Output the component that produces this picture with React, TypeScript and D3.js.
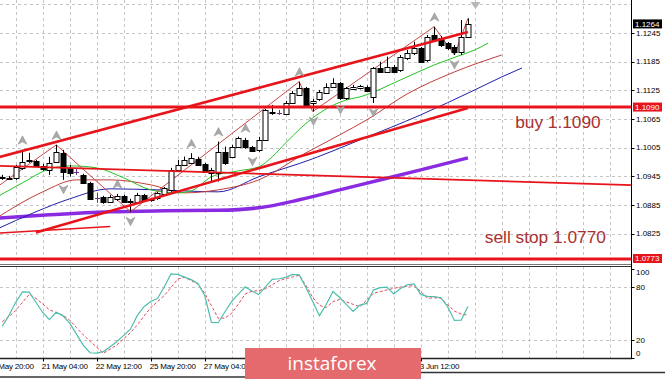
import React from "react";
import * as d3 from "d3";

// ---------- DATA (EURUSD H4, bar 0 = 20 May 04:00) ----------
const opens = [1.09428,1.09407,1.09411,1.09634,1.09774,1.09774,1.09675,1.09586,1.09759,1.09941,
1.09627,1.09537,1.09481,1.09306,1.09000,1.09007,1.08923,1.08973,1.09042,1.08917,
1.08923,1.09063,1.08948,1.08994,1.09083,1.09167,1.09586,1.09690,1.09738,1.09816,
1.09704,1.09516,1.09516,1.09968,1.09864,1.10060,1.10213,1.10060,1.10004,1.10213,
1.10805,1.10784,1.10757,1.10980,1.11154,1.11294,1.10980,1.11064,1.11202,1.11327,
1.11398,1.11085,1.11273,1.11300,1.11327,1.11118,1.11712,1.11641,1.11746,1.11676,
1.11921,1.12026,1.12130,1.11886,1.12408,1.12352,1.12235,1.12164,1.12059,1.12373];
const closes = [1.09418,1.09418,1.09655,1.09759,1.09784,1.09675,1.09606,1.09732,1.09968,1.09550,
1.09529,1.09537,1.09306,1.08979,1.09000,1.08910,1.09027,1.09048,1.08923,1.08937,
1.09063,1.08958,1.08969,1.09098,1.09202,1.09586,1.09690,1.09795,1.09837,1.09690,
1.09550,1.09586,1.09968,1.09725,1.10060,1.10249,1.10060,1.09989,1.10213,1.10840,
1.10771,1.10784,1.10993,1.11189,1.11294,1.10945,1.11034,1.11223,1.11327,1.11398,
1.11085,1.11294,1.11327,1.11331,1.11244,1.11712,1.11641,1.11746,1.11641,1.11955,
1.12038,1.12130,1.11850,1.12373,1.12304,1.12199,1.12130,1.12059,1.12373,1.12640];
const highs = [1.09481,1.09460,1.09690,1.10004,1.09941,1.09795,1.09711,1.09857,1.10108,1.10004,
1.09690,1.09606,1.09502,1.09334,1.09104,1.09042,1.09063,1.09083,1.09063,1.08979,
1.09104,1.09083,1.09000,1.09125,1.09230,1.09627,1.09795,1.09864,1.09935,1.09857,
1.09732,1.09627,1.10177,1.10073,1.10108,1.10282,1.10255,1.10087,1.10276,1.10861,
1.10945,1.10840,1.11028,1.11237,1.11432,1.11321,1.11070,1.11258,1.11398,1.11503,
1.11425,1.11321,1.11363,1.11363,1.11352,1.11739,1.11850,1.11955,1.11781,1.11990,
1.12095,1.12268,1.12157,1.12408,1.12582,1.12387,1.12262,1.12199,1.12722,1.12757];
const lows = [1.09376,1.09376,1.09376,1.09586,1.09732,1.09669,1.09565,1.09481,1.09732,1.09376,
1.09445,1.09481,1.09293,1.08958,1.08896,1.08875,1.08896,1.08937,1.08896,1.08708,
1.08896,1.08937,1.08917,1.08958,1.09063,1.09125,1.09565,1.09669,1.09711,1.09669,
1.09523,1.09340,1.09340,1.09690,1.09837,1.10046,1.10025,1.09962,1.09962,1.10192,
1.10736,1.10736,1.10736,1.10966,1.11133,1.10882,1.10805,1.11028,1.11175,1.11300,
1.11049,1.11049,1.11258,1.11269,1.11216,1.10986,1.11614,1.11614,1.11614,1.11635,
1.11886,1.11990,1.11823,1.11844,1.12283,1.12157,1.12095,1.11990,1.11990,1.12345];

const stochK = [35.3,47.9,62.7,74.6,74.2,62.8,51.2,43.2,51.4,47.4,39.1,26.7,14.3,5.6,5.1,6.9,12.5,18.3,25.3,32.3,
47.6,57.7,63.7,66.9,80.0,94.8,94.3,91.3,88.4,84.2,70.4,40.0,39.6,52.0,63.7,72.1,80.2,75.5,71.5,80.3,
88.7,89.4,91.0,94.3,93.8,79.5,63.6,47.6,60.2,75.0,68.2,60.2,52.3,59.6,61.5,76.6,79.4,80.0,72.1,78.4,
82.6,83.7,71.7,69.5,69.1,67.9,57.5,42.2,42.6,58.1];
const stochD = [40.8,46.5,53.5,62.7,71.7,67.2,60.9,54.2,51.1,48.1,42.6,34.1,25.9,18.8,11.8,5.1,9.7,14.6,21.5,28.4,
37.0,47.1,56.6,63.5,70.3,79.4,88.9,91.1,87.2,83.4,73.0,58.9,44.6,44.9,50.3,60.8,72.2,75.2,76.0,78.1,
82.6,87.2,89.5,91.4,93.4,81.8,68.3,59.3,56.8,63.5,66.0,63.2,60.4,57.7,65.3,73.0,74.8,76.7,78.6,79.9,
81.1,81.6,75.2,67.3,67.9,67.3,60.0,52.7,49.4,48.3];

// Alligator (shifted lines extend past last bar), MA, ZigZag: [bar index, price]
const lipsPts: [number, number][] = [[-1,1.09000],[3,1.09314],[7,1.09606],[10,1.09669],[14,1.09627],[18,1.09418],[22,1.09167],[26,1.09104],[28,1.09146],[31,1.09439],[35,1.09565],[38,1.09648],[40,1.09857],[42,1.10150],[46,1.10673],[51,1.11049],[53,1.11112],[59,1.11467],[64,1.11781],[68,1.11990],[70,1.12095],[72,1.12241]];
const teethPts: [number, number][] = [[-1,1.08561],[6,1.09125],[11,1.09376],[16,1.09376],[22,1.09272],[27,1.09104],[32,1.09167],[38,1.09376],[45,1.09941],[50,1.10318],[54,1.10631],[60,1.11175],[67,1.11635],[74,1.11990]];
const jawPts: [number, number][] = [[-1,1.08331],[5,1.08708],[10,1.08979],[16,1.09188],[23,1.09167],[32,1.09125],[38,1.09439],[46,1.09816],[53,1.10213],[62,1.10736],[70,1.11258],[74,1.11530],[77,1.11718]];
const maPts: [number, number][] = [[-1,1.08572],[7,1.08645],[16,1.08708],[24,1.08729],[32,1.08739],[38,1.08791],[44,1.08958],[50,1.09167],[53,1.09272],[62,1.09586],[69,1.09837]];
const zigzagPts: [number, number][] = [[-2,1.09104],[8,1.10108],[19,1.08708],[44,1.11432],[46,1.10805],[64,1.12582],[67,1.11990],[69,1.12757]];

const upFractals = [3, 8, 17, 28, 32, 36, 44, 64];
const downFractals = [9, 19, 37, 46, 50, 55, 67];

// Drawn objects
const upperChannel: [number, number][] = [[-1,1.09832],[69,1.12471]];
const lowerChannel: [number, number][] = [[5,1.08275],[69,1.10882]];
const slopeLine: [number, number][] = [[-1,1.09671],[94,1.09262]];
const shortLine: [number, number][] = [[-1,1.08258],[16,1.08400]];
const hLevels = [1.1090, 1.0773];
const lastPrice = 1.1264;

const priceTicks = [1.1305, 1.1245, 1.1185, 1.1125, 1.1065, 1.1005, 1.0945, 1.0885, 1.0825];
const stochTicks = [100, 80, 20, 0];
// labels visible (the others sit under the watermark)
const dateLabels = ["19 May 20:00","21 May 04:00","22 May 12:00","25 May 20:00","27 May 04:00","3 Jun 12:00"];
const dateIdx = [-2, 6, 14, 22, 30, 62];
const gridIdx = d3.range(2, 91, 4);

const notes = [
  { text: "buy 1.1090", idx: 76, price: 1.10463 },
  { text: "sell stop 1.0770", idx: 71.5, price: 1.08056 },
];

// ---------- LAYOUT ----------
const PLOT_R = 631.5;
const MAIN_B = 264;
const ST_T = 266.5;
const ST_B = 358.5;
const AX_FONT = "'Liberation Sans', Arial, sans-serif";

const x = d3.scaleLinear().domain([0, 69]).range([2.2, 467.95]);
const y = d3.scaleLinear().domain([1.0773, 1.1245]).range([258.5, 33]);
const s = d3.scaleLinear().domain([0, 100]).range([357.7, 269.4]);

const px = (v: number) => Math.round(v) + 0.5;

export default function App() {
  const priceLine = d3.line<[number, number]>().x(d => x(d[0])).y(d => y(d[1])).curve(d3.curveMonotoneX);
  const straight = d3.line<[number, number]>().x(d => x(d[0])).y(d => y(d[1]));
  const stochLine = d3.line<number>().x((_, i) => x(i)).y(d => s(d));

  const candles = opens.map((o, i) => {
    const c = closes[i];
    const cx = px(x(i));
    const doji = Math.abs(o - c) < 0.00004;
    const up = c > o;
    const top = y(Math.max(o, c));
    const bot = y(Math.min(o, c));
    const col = doji ? "#6b2a8c" : "#000";
    return (
      <g key={i}>
        <line x1={cx} x2={cx} y1={y(highs[i])} y2={y(lows[i])} stroke={col} strokeWidth={1} />
        {doji ? (
          <line x1={cx - 2.5} x2={cx + 2.5} y1={px(top)} y2={px(top)} stroke={col} strokeWidth={1} />
        ) : (
          <rect x={cx - 2.5} y={Math.round(top) + 0.5} width={5} height={Math.max(1, Math.round(bot) - Math.round(top))}
            fill={up ? "#fff" : "#000"} stroke="#000" strokeWidth={1} />
        )}
      </g>
    );
  });

  const arrowUp = "M0,-5 L4.5,3.5 L0,1 L-4.5,3.5 Z";
  const arrowDown = "M0,5 L4.5,-3.5 L0,-1 L-4.5,-3.5 Z";

  return (
    <svg width={665} height={379} style={{ position: "absolute", left: 0, top: 0, background: "#fff" }}>
      <defs>
        <clipPath id="mainClip"><rect x={0} y={0} width={PLOT_R} height={MAIN_B} /></clipPath>
        <clipPath id="stClip"><rect x={0} y={ST_T} width={PLOT_R} height={ST_B - ST_T} /></clipPath>
      </defs>
      <rect x={0} y={0} width={665} height={379} fill="#fff" />

      {/* grid */}
      <g stroke="#c4c4c4" strokeWidth={1} strokeDasharray="3,3">
        {priceTicks.map(t => <line key={t} x1={0} x2={PLOT_R} y1={px(y(t))} y2={px(y(t))} />)}
        {[80, 20].map(t => <line key={t} x1={0} x2={PLOT_R} y1={px(s(t))} y2={px(s(t))} />)}
        {gridIdx.map(g => (
          <g key={g}>
            <line x1={px(x(g))} x2={px(x(g))} y1={0} y2={MAIN_B} />
            <line x1={px(x(g))} x2={px(x(g))} y1={ST_T} y2={ST_B} />
          </g>
        ))}
      </g>

      {/* main panel */}
      <g clipPath="url(#mainClip)">
        <path d={priceLine(maPts) || ""} fill="none" stroke="#8a2be2" strokeWidth={3.5} />
        <path d={priceLine(jawPts) || ""} fill="none" stroke="#1f1fa8" strokeWidth={1} />
        <path d={priceLine(teethPts) || ""} fill="none" stroke="#c23b3b" strokeWidth={1} />
        <path d={priceLine(lipsPts) || ""} fill="none" stroke="#22c422" strokeWidth={1} />
        <path d={straight(zigzagPts) || ""} fill="none" stroke="#c84848" strokeWidth={1} />
        {candles}
        {/* objects */}
        <path d={straight(shortLine) || ""} stroke="#e8141b" strokeWidth={1.6} fill="none" />
        <path d={straight(slopeLine) || ""} stroke="#e8141b" strokeWidth={1.8} fill="none" />
        <path d={straight(upperChannel) || ""} stroke="#e8141b" strokeWidth={2.6} fill="none" />
        <path d={straight(lowerChannel) || ""} stroke="#e8141b" strokeWidth={2.6} fill="none" />
        {hLevels.map(h => (
          <line key={h} x1={0} x2={PLOT_R} y1={Math.round(y(h))} y2={Math.round(y(h))} stroke="#e8141b" strokeWidth={3} />
        ))}
        {upFractals.map(i => (
          <path key={"u" + i} d={arrowUp} transform={`translate(${px(x(i))},${y(highs[i]) - 9})`} fill="#a9a9a9" stroke="#8a8a8a" strokeWidth={0.5} />
        ))}
        {downFractals.map(i => (
          <path key={"d" + i} d={arrowDown} transform={`translate(${px(x(i))},${y(lows[i]) + 9})`} fill="#a9a9a9" stroke="#8a8a8a" strokeWidth={0.5} />
        ))}
        {/* chart shift marker */}
        <path d="M-5,2 L5,2 L0,9 Z" transform={`translate(${px(x(70))},0)`} fill="#b8b8b8" />
        {notes.map(n => (
          <text key={n.text} x={x(n.idx)} y={y(n.price)} fontFamily="'Liberation Sans', Arial, sans-serif" fontSize={17.3} fill="#a83030">{n.text}</text>
        ))}
      </g>

      {/* stochastic */}
      <g clipPath="url(#stClip)">
        <path d={stochLine(stochD) || ""} fill="none" stroke="#e0485a" strokeWidth={1} strokeDasharray="3,2" />
        <path d={stochLine(stochK) || ""} fill="none" stroke="#4dbfae" strokeWidth={1.2} />
      </g>

      {/* frames */}
      <line x1={0} x2={PLOT_R} y1={MAIN_B + 0.5} y2={MAIN_B + 0.5} stroke="#777" />
      <line x1={0} x2={PLOT_R} y1={ST_T} y2={ST_T} stroke="#333" />
      <line x1={0} x2={PLOT_R + 0.5} y1={ST_B} y2={ST_B} stroke="#222" strokeWidth={1.5} />
      <line x1={PLOT_R} x2={PLOT_R} y1={0} y2={ST_B} stroke="#000" />

      {/* price axis */}
      <g fontFamily={AX_FONT} fontSize={8} fill="#000">
        {priceTicks.slice(1).map(t => (
          <g key={t}>
            <line x1={PLOT_R} x2={PLOT_R + 3} y1={px(y(t))} y2={px(y(t))} stroke="#000" />
            <text x={636} y={y(t)} dy="0.35em">{t.toFixed(4)}</text>
          </g>
        ))}
        {hLevels.map(h => (
          <g key={h}>
            <rect x={633} y={y(h) - 4.5} width={29} height={9} fill="#e8141b" />
            <text x={635} y={y(h)} dy="0.35em" fill="#fff">{h.toFixed(4)}</text>
          </g>
        ))}
        <rect x={633} y={y(lastPrice) - 4.5} width={29} height={9} fill="#000" />
        <text x={635} y={y(lastPrice)} dy="0.35em" fill="#fff">{lastPrice.toFixed(4)}</text>
        {stochTicks.map(t => {
          const ty = Math.min(Math.max(s(t), ST_T + 6), ST_B - 5);
          return (
            <g key={t}>
              <line x1={PLOT_R} x2={PLOT_R + 3} y1={px(s(t))} y2={px(s(t))} stroke="#000" />
              <text x={636} y={ty} dy="0.35em">{t}</text>
            </g>
          );
        })}
      </g>

      {/* time axis */}
      <g fontFamily={AX_FONT} fontSize={8} fill="#000">
        {dateIdx.map((d, k) => (
          <g key={d}>
            <line x1={px(x(d))} x2={px(x(d))} y1={ST_B} y2={ST_B + 3} stroke="#000" />
            <text x={x(d) - 1} y={369} letterSpacing={-0.2}>{dateLabels[k]}</text>
          </g>
        ))}
      </g>

      {/* watermark */}
      <rect x={245} y={348} width={176} height={31} fill="#e46a6d" />
      <text x={332} y={370} textAnchor="middle" fontFamily="'Open Sans', sans-serif" fontSize={19} fill="#fff">instaforex</text>

      <line x1={0} x2={245} y1={377} y2={377} stroke="#333" strokeWidth={1.5} />
      <line x1={421} x2={665} y1={372.5} y2={372.5} stroke="#333" strokeWidth={1.5} />
    </svg>
  );
}
